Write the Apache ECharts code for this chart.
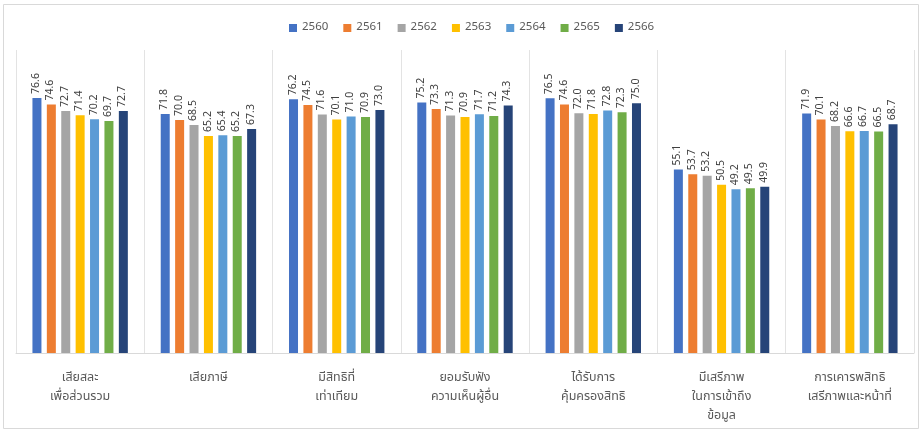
<!DOCTYPE html>
<html>
<head>
<meta charset="utf-8">
<script src="https://cdn.jsdelivr.net/npm/echarts@6/dist/echarts.min.js"></script>
<style>html,body{margin:0;padding:0;background:#fff;}#c{width:922px;height:431px;}</style>
</head>
<body>
<div id="c"></div>
<script>
const categories = [
  'เสียสละ\nเพื่อส่วนรวม',
  'เสียภาษี',
  'มีสิทธิที่\nเท่าเทียม',
  'ยอมรับฟัง\nความเห็นผู้อื่น',
  'ได้รับการ\nคุ้มครองสิทธิ',
  'มีเสรีภาพ\nในการเข้าถึง\nข้อมูล',
  'การเคารพสิทธิ\nเสรีภาพและหน้าที่'
];
const years = ['2560','2561','2562','2563','2564','2565','2566'];
const colors = ['#4472C4','#ED7D31','#A5A5A5','#FFC000','#5B9BD5','#70AD47','#264478'];
const v2560 = [76.6, 71.8, 76.2, 75.2, 76.5, 55.1, 71.9];
const v2561 = [74.6, 70.0, 74.5, 73.3, 74.6, 53.7, 70.1];
const v2562 = [72.7, 68.5, 71.6, 71.3, 72.0, 53.2, 68.2];
const v2563 = [71.4, 65.2, 70.1, 70.9, 71.8, 50.5, 66.6];
const v2564 = [70.2, 65.4, 71.0, 71.7, 72.8, 49.2, 66.7];
const v2565 = [69.7, 65.2, 70.9, 71.2, 72.3, 49.5, 66.5];
const v2566 = [72.7, 67.3, 73.0, 74.3, 75.0, 49.9, 68.7];
const seriesValues = [v2560, v2561, v2562, v2563, v2564, v2565, v2566];

const font = 'Noto Sans Thai, Noto Sans, Liberation Sans, sans-serif';
const chart = echarts.init(document.getElementById('c'));
chart.setOption({
  animation: false,
  color: colors,
  textStyle: { fontFamily: font },
  graphic: [{
    type: 'rect', shape: { x: 3.5, y: 4.5, width: 915, height: 424 },
    style: { fill: 'none', stroke: '#d9d9d9', lineWidth: 1 }, silent: true
  }],
  legend: {
    top: 17, left: 284,
    itemWidth: 8, itemHeight: 8, itemGap: 15,
    icon: 'rect',
    textStyle: { fontSize: 11.5, color: '#595959', fontFamily: font },
    data: years
  },
  grid: { left: 16, right: 8, top: 50, bottom: 78, containLabel: false },
  xAxis: {
    type: 'category',
    data: categories,
    axisLine: { show: true, lineStyle: { color: '#d9d9d9' } },
    axisTick: { show: false },
    splitLine: { show: true, lineStyle: { color: '#e3e3e3' } },
    axisLabel: { interval: 0, margin: 16, fontSize: 12.5, lineHeight: 19, color: '#595959', fontFamily: font }
  },
  yAxis: {
    type: 'value', min: 0, max: 91,
    show: false, splitLine: { show: false }
  },
  series: years.map((y, i) => ({
    name: y,
    type: 'bar',
    data: seriesValues[i],
    barWidth: 9,
    barGap: '60%',
    itemStyle: { color: colors[i] },
    label: {
      show: true, position: 'top', rotate: 90, align: 'left', verticalAlign: 'middle',
      distance: 4, fontSize: 10.5, color: '#404040', fontFamily: font,
      formatter: p => p.value.toFixed(1)
    }
  }))
});
</script>
</body>
</html>
